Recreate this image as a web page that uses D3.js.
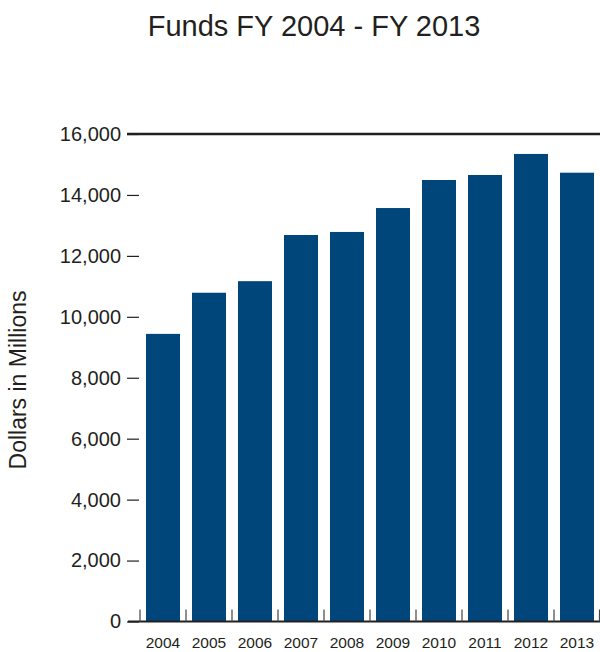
<!DOCTYPE html>
<html>
<head>
<meta charset="utf-8">
<script src="https://cdn.jsdelivr.net/npm/d3@7"></script>
<style>
  html, body { margin: 0; padding: 0; background: #fff; }
  svg { display: block; font-family: "Liberation Sans", Arial, sans-serif; }
</style>
</head>
<body>
<div id="chart"></div>
<script>
const years = ['2004', '2005', '2006', '2007', '2008', '2009', '2010', '2011', '2012', '2013'];
const funds = [9440, 10790, 11170, 12685, 12785, 13570, 14490, 14655, 15345, 14730];
const yTicks = [0, 2000, 4000, 6000, 8000, 10000, 12000, 14000, 16000];
const title = 'Funds FY 2004 - FY 2013';
const yLabel = 'Dollars in Millions';

const width = 600;
const height = 652;
const margin = { top: 134, right: 0, bottom: 30.5, left: 140 };
const ink = '#231f20';
const barColor = '#00467a';

const svg = d3.select('#chart')
  .append('svg')
  .attr('width', width)
  .attr('height', height);

const x = d3.scaleBand()
  .domain(years)
  .range([margin.left, width - margin.right])
  .paddingInner(12 / 46)
  .paddingOuter(6 / 46);

const y = d3.scaleLinear()
  .domain([0, 16000])
  .range([height - margin.bottom, margin.top]);

// title
svg.append('text')
  .attr('x', 314)
  .attr('y', 36)
  .attr('text-anchor', 'middle')
  .attr('font-size', 29)
  .attr('fill', ink)
  .text(title);

// y axis label
svg.append('text')
  .attr('transform', 'translate(26,380) rotate(-90)')
  .attr('text-anchor', 'middle')
  .attr('font-size', 23)
  .attr('fill', ink)
  .text(yLabel);

// bars
svg.append('g')
  .selectAll('rect')
  .data(years)
  .join('rect')
  .attr('x', d => x(d))
  .attr('y', (d, i) => y(funds[i]))
  .attr('width', x.bandwidth())
  .attr('height', (d, i) => y(0) - y(funds[i]))
  .attr('fill', barColor);

// y axis: short ticks and labels, no domain line
const yAxis = svg.append('g')
  .attr('transform', 'translate(139,0)')
  .call(d3.axisLeft(y)
    .tickValues(yTicks)
    .tickSize(12)
    .tickPadding(6)
    .tickFormat(d3.format(',')));
yAxis.select('.domain').remove();
yAxis.selectAll('line').attr('stroke', ink).attr('stroke-width', 1.2);
yAxis.selectAll('text')
  .attr('font-size', 20)
  .attr('fill', ink)
  .attr('font-family', '"Liberation Sans", Arial, sans-serif');

// top rule at 16,000
svg.append('line')
  .attr('x1', 127)
  .attr('x2', width)
  .attr('y1', y(16000))
  .attr('y2', y(16000))
  .attr('stroke', ink)
  .attr('stroke-width', 2.6);

// baseline
svg.append('line')
  .attr('x1', 128)
  .attr('x2', width)
  .attr('y1', y(0))
  .attr('y2', y(0))
  .attr('stroke', ink)
  .attr('stroke-width', 2);

// x ticks at band boundaries
const gap = (x.step() - x.bandwidth()) / 2;
const bounds = years.map(d => x(d) - gap).concat([width - margin.right - 0.5]);
svg.append('g')
  .selectAll('line')
  .data(bounds)
  .join('line')
  .attr('x1', d => d)
  .attr('x2', d => d)
  .attr('y1', y(0))
  .attr('y2', y(0) - 12)
  .attr('stroke', '#444')
  .attr('stroke-width', 1.2);

// x labels
svg.append('g')
  .selectAll('text')
  .data(years)
  .join('text')
  .attr('x', d => x(d) + x.bandwidth() / 2)
  .attr('y', 648)
  .attr('text-anchor', 'middle')
  .attr('font-size', 15.5)
  .attr('fill', ink)
  .text(d => d);
</script>
</body>
</html>
